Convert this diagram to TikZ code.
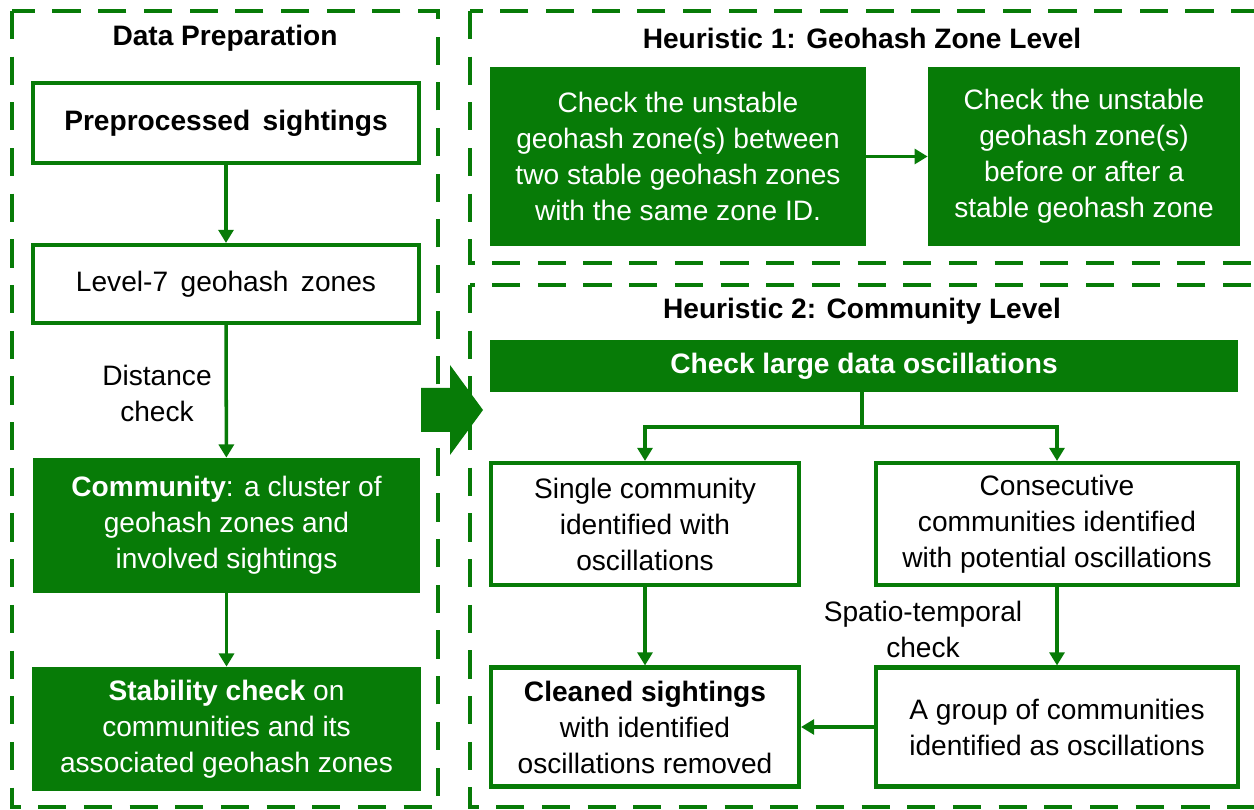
\documentclass[tikz,border=0pt]{standalone}
\usepackage{fontspec}
\setmainfont{Liberation Sans}
\usetikzlibrary{arrows.meta,calc}
\definecolor{gr}{RGB}{7,123,7}
\begin{document}
\begin{tikzpicture}[x=0.02cm,y=-0.02cm,
  txt/.style={font=\fontsize{16}{20.5}\selectfont, align=center, inner sep=0pt},
  wbox/.style={txt, draw=gr, line width=2.3pt, fill=white, text=black},
  gbox/.style={txt, fill=gr, text=white},
  arr/.style={draw=gr, line width=2pt, -{Triangle[length=7.5pt,width=8.5pt]}},
  ln/.style={draw=gr, line width=2pt},
  dbox/.style={draw=gr, line width=2.1pt, dash pattern=on 16pt off 10pt},
  ttl/.style={font=\fontsize{16}{20.5}\selectfont\bfseries, inner sep=0pt}
]
\useasboundingbox (0,0) rectangle (1254,810);
\clip (0,0) rectangle (1254,810);
% dashed frames
\draw[dbox] (12,11) rectangle (438,807);
\draw[dbox] (470,11) rectangle (1275,263);
\draw[dbox] (470,285) rectangle (1275,807);
% titles
\node[ttl] (t0) at (225,38) {Data Preparation};
\node[ttl] (t1) at (862,38) {Heuristic 1: Geohash Zone Level};
\node[ttl] (t2) at (862,311) {Heuristic 2: Community Level};
% left column
\node[wbox, minimum width=7.72cm, minimum height=1.6cm, font=\fontsize{16}{20.5}\selectfont\bfseries] (pre) at (226,123) {\raisebox{-2pt}{Preprocessed\, sightings}};
\node[wbox, minimum width=7.72cm, minimum height=1.56cm] (lvl) at (226,284) {\raisebox{-2pt}{Level-7\, geohash\, zones}};
\node[gbox, minimum width=7.74cm, minimum height=2.7cm] (comm) at (226.5,525.5) {\textbf{Community}: a cluster of\\geohash zones and\\involved sightings};
\node[gbox, minimum width=7.78cm, minimum height=2.48cm] (stab) at (226.5,729) {\textbf{Stability check} on\\communities and its\\associated geohash zones};
\node[txt] (dist) at (157,393) {Distance\\check};
\draw[arr] (pre) -- (lvl);
\draw[arr] (lvl) -- (comm);
\draw[arr] (comm) -- (stab);
% big arrow
\fill[gr] (421,388) -- (450,388) -- (450,365) -- (483,410) -- (450,455) -- (450,432) -- (421,432) -- cycle;
% heuristic 1
\node[gbox, minimum width=7.52cm, minimum height=3.58cm] (h1a) at (678,156.5) {Check the unstable\\geohash zone(s) between\\two stable geohash zones\\with the same zone ID.};
\node[gbox, minimum width=6.24cm, minimum height=3.58cm] (h1b) at (1084,156.5) {Check the unstable\\geohash zone(s)\\before or after a\\stable geohash zone};
\draw[arr] (h1a) -- (h1b);
% heuristic 2
\node[gbox, minimum width=14.96cm, minimum height=1.04cm, font=\fontsize{16}{20.5}\selectfont\bfseries] (bar) at (864,366) {Check large data oscillations};
\node[wbox, minimum width=6.16cm, minimum height=2.44cm] (single) at (645,524) {Single community\\identified with\\oscillations};
\node[wbox, minimum width=7.24cm, minimum height=2.44cm] (consec) at (1057,524) {Consecutive\\communities identified\\with potential oscillations};
\node[wbox, minimum width=6.16cm, minimum height=2.38cm] (clean) at (645,727) {\textbf{Cleaned sightings}\\with identified\\oscillations removed};
\node[wbox, minimum width=7.24cm, minimum height=2.38cm] (group) at (1057,727) {A group of communities\\identified as oscillations};
\node[txt] (spt) at (923,629) {Spatio-temporal\\check};
\coordinate (j) at (862,427);
\draw[ln] (bar.south -| j) -- (j);
\draw[arr] (j) -| (single);
\draw[arr] (j) -| (consec);
\draw[arr] (single) -- (clean);
\draw[arr] (consec) -- (group);
\draw[arr] (group.west) -- (clean.east);
\end{tikzpicture}
\end{document}
